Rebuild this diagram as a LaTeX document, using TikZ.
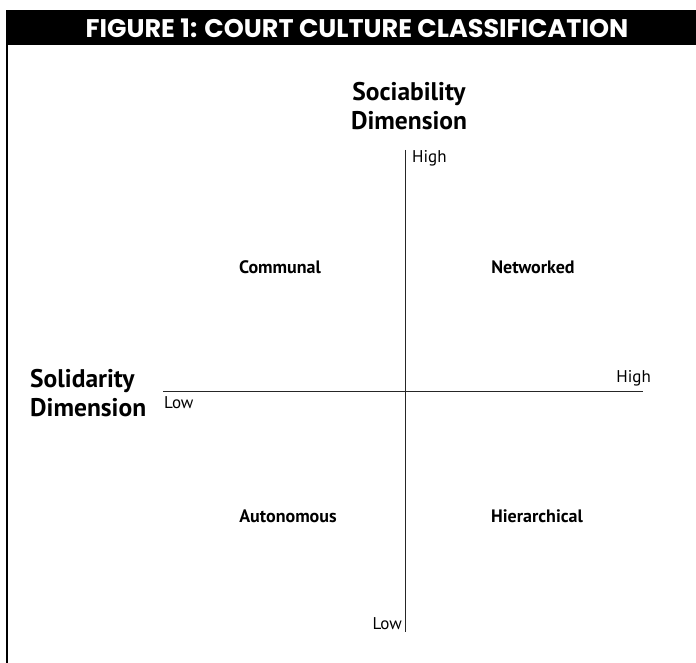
\documentclass[tikz,border=0pt]{standalone}
\usepackage{fontspec}
\setmainfont{PT Sans}
\newfontfamily\headfont{Poppins}
\begin{document}
\begin{tikzpicture}[x=1pt,y=-1pt,
  axis/.style={draw=black!85,line width=1pt},
  dimlabel/.style={font=\bfseries\fontsize{25.5}{29}\selectfont,align=left,inner sep=0pt},
  endlabel/.style={font=\fontsize{17}{19}\selectfont,inner sep=0pt},
  quadrant/.style={font=\bfseries\fontsize{18}{21}\selectfont,inner sep=0pt}]
  \useasboundingbox (0,0) rectangle (696,663);
  % header bar and frame
  \fill[black] (6,10) rectangle (696,45);
  \node (title) at (357,28) {\headfont\bfseries\fontsize{25.5}{28}\selectfont\color{white}FIGURE 1: COURT CULTURE CLASSIFICATION};
  \draw[line width=2pt] (7,45) -- (7,663);
  % axes
  \coordinate (top) at (405,150);
  \coordinate (bottom) at (405,632);
  \coordinate (left) at (163,391);
  \coordinate (right) at (643,391);
  \draw[axis] (top) -- (bottom);
  \draw[axis] (left) -- (right);
  % dimensions
  \node[dimlabel,align=center] (soc) at (409,106) {Sociability\\Dimension};
  \node[dimlabel,anchor=west] (sol) at (30,393) {Solidarity\\Dimension};
  \node[endlabel,anchor=west] (sochigh) at (412,158) {High};
  \node[endlabel,anchor=east] (soclow) at (402,624) {Low};
  \node[endlabel,anchor=east] (solhigh) at (651,378) {High};
  \node[endlabel,anchor=west] (sollow) at (164,403) {Low};
  % quadrants
  \node[quadrant] (communal) at (280,267) {Communal};
  \node[quadrant] (networked) at (533,267) {Networked};
  \node[quadrant] (autonomous) at (288,516) {Autonomous};
  \node[quadrant] (hierarchical) at (537,516) {Hierarchical};
\end{tikzpicture}
\end{document}
